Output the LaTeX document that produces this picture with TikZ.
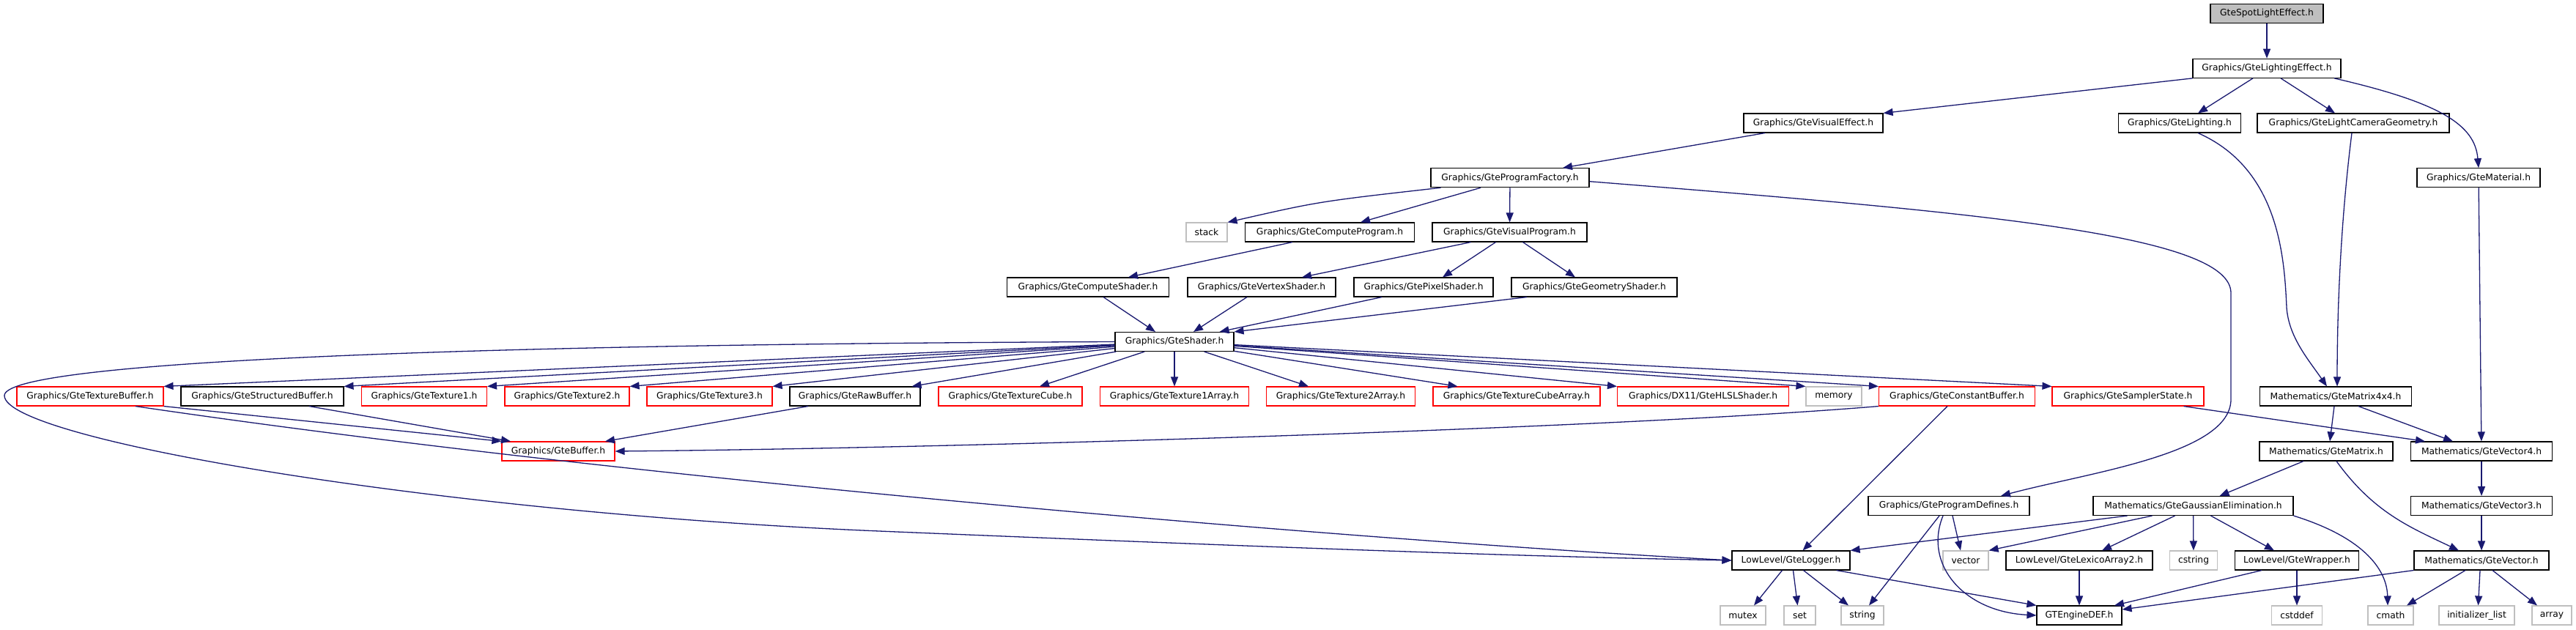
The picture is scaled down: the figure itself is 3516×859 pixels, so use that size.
\documentclass[tikz,border=0pt]{standalone}
\usepackage{fontspec}
\setmainfont{DejaVu Sans}
\usetikzlibrary{arrows.meta}
\definecolor{edgeblue}{HTML}{191970}
\definecolor{sysgray}{HTML}{BFBFBF}

\begin{document}
\begin{tikzpicture}[x=1pt,y=-1pt,
  hdr/.style={draw=black,line width=1.1pt,fill=white,minimum height=26pt,inner sep=0pt,font=\fontsize{12.3}{14}\selectfont},
  hdrred/.style={hdr,draw=red},
  hdrsys/.style={hdr,draw=sysgray},
  hdrroot/.style={hdr,fill=sysgray},
  edge/.style={draw=edgeblue,line width=1.3pt,-{Triangle[length=13pt,width=10pt]}}]
  \useasboundingbox (0,0) rectangle (3516,859);
  \node[hdrroot,minimum width=154pt] (spot) at (3094,18.5) {GteSpotLightEffect.h};
  \node[hdr,minimum width=202pt] (lighteff) at (3094,93.3) {Graphics/GteLightingEffect.h};
  \node[hdr,minimum width=190pt] (viseff) at (2475,168) {Graphics/GteVisualEffect.h};
  \node[hdr,minimum width=167pt] (lighting) at (2975,168) {Graphics/GteLighting.h};
  \node[hdr,minimum width=262pt] (lightcam) at (3212,168) {Graphics/GteLightCameraGeometry.h};
  \node[hdr,minimum width=216pt] (progfac) at (2061,242.7) {Graphics/GteProgramFactory.h};
  \node[hdr,minimum width=168pt] (material) at (3383,242.7) {Graphics/GteMaterial.h};
  \node[hdrsys,minimum width=56pt] (stack) at (1647,317) {stack};
  \node[hdr,minimum width=231pt] (compprog) at (1815,317) {Graphics/GteComputeProgram.h};
  \node[hdr,minimum width=211pt] (visprog) at (2060.5,317) {Graphics/GteVisualProgram.h};
  \node[hdr,minimum width=221pt] (compshd) at (1485,392) {Graphics/GteComputeShader.h};
  \node[hdr,minimum width=202pt] (vertshd) at (1722,392) {Graphics/GteVertexShader.h};
  \node[hdr,minimum width=190pt] (pixshd) at (1943,392) {Graphics/GtePixelShader.h};
  \node[hdr,minimum width=226pt] (geomshd) at (2176,392) {Graphics/GteGeometryShader.h};
  \node[hdr,minimum width=162pt] (shader) at (1603,466.5) {Graphics/GteShader.h};
  \node[hdrred,minimum width=200pt] (texbuf) at (123,541) {Graphics/GteTextureBuffer.h};
  \node[hdr,minimum width=222pt] (structbuf) at (358,541) {Graphics/GteStructuredBuffer.h};
  \node[hdrred,minimum width=171pt] (tex1) at (579,541) {Graphics/GteTexture1.h};
  \node[hdrred,minimum width=170pt] (tex2) at (774,541) {Graphics/GteTexture2.h};
  \node[hdrred,minimum width=171pt] (tex3) at (968.5,541) {Graphics/GteTexture3.h};
  \node[hdr,minimum width=178pt] (rawbuf) at (1167,541) {Graphics/GteRawBuffer.h};
  \node[hdrred,minimum width=196pt] (texcube) at (1379,541) {Graphics/GteTextureCube.h};
  \node[hdrred,minimum width=203pt] (tex1arr) at (1603,541) {Graphics/GteTexture1Array.h};
  \node[hdrred,minimum width=203pt] (tex2arr) at (1830,541) {Graphics/GteTexture2Array.h};
  \node[hdrred,minimum width=228pt] (texcubearr) at (2070,541) {Graphics/GteTextureCubeArray.h};
  \node[hdrred,minimum width=234pt] (hlsl) at (2324.5,541) {Graphics/DX11/GteHLSLShader.h};
  \node[hdrsys,minimum width=76pt] (memory) at (2503,541) {memory};
  \node[hdrred,minimum width=213pt] (constbuf) at (2671,541) {Graphics/GteConstantBuffer.h};
  \node[hdrred,minimum width=207pt] (sampler) at (2904.5,541) {Graphics/GteSamplerState.h};
  \node[hdr,minimum width=207pt] (mat44) at (3188,541) {Mathematics/GteMatrix4x4.h};
  \node[hdrred,minimum width=154pt] (buffer) at (762,616) {Graphics/GteBuffer.h};
  \node[hdr,minimum width=182pt] (matrix) at (3175,616) {Mathematics/GteMatrix.h};
  \node[hdr,minimum width=193pt] (vec4) at (3387,616) {Mathematics/GteVector4.h};
  \node[hdr,minimum width=220pt] (progdef) at (2660,690.5) {Graphics/GteProgramDefines.h};
  \node[hdr,minimum width=273pt] (gauss) at (2993.5,690.5) {Mathematics/GteGaussianElimination.h};
  \node[hdr,minimum width=193pt] (vec3) at (3387,690.5) {Mathematics/GteVector3.h};
  \node[hdr,minimum width=161pt] (logger) at (2444.5,765) {LowLevel/GteLogger.h};
  \node[hdrsys,minimum width=62pt] (vector) at (2683,765) {vector};
  \node[hdr,minimum width=200pt] (lexico) at (2838,765) {LowLevel/GteLexicoArray2.h};
  \node[hdrsys,minimum width=65pt] (cstring) at (2994,765) {cstring};
  \node[hdr,minimum width=169pt] (wrapper) at (3135,765) {LowLevel/GteWrapper.h};
  \node[hdr,minimum width=184pt] (vecn) at (3387,765) {Mathematics/GteVector.h};
  \node[hdrsys,minimum width=62pt] (mutex) at (2379,840) {mutex};
  \node[hdrsys,minimum width=43pt] (set) at (2456.5,840) {set};
  \node[hdrsys,minimum width=58pt] (string) at (2542,840) {string};
  \node[hdr,minimum width=116pt] (enginedef) at (2838,840) {GTEngineDEF.h};
  \node[hdrsys,minimum width=69pt] (cstddef) at (3135,840) {cstddef};
  \node[hdrsys,minimum width=62pt] (cmath) at (3263,840) {cmath};
  \node[hdrsys,minimum width=103pt] (initlist) at (3380.5,840) {initializer\_list};
  \node[hdrsys,minimum width=54pt] (array) at (3483,840) {array};

  \draw[edge] (spot) -- (lighteff);
  \draw[edge] (lighteff.south west) -- (viseff.north east);
  \draw[edge] ([xshift=-19pt]lighteff.south) -- ([xshift=25pt]lighting.north);
  \draw[edge] ([xshift=19pt]lighteff.south) -- ([xshift=-25pt]lightcam.north);
  \draw[edge] ([xshift=92pt]lighteff.south) .. controls (3330,140) and (3378,170) .. (material.north);
  \draw[edge] ([xshift=-66pt]viseff.south) -- ([xshift=72pt]progfac.north);
  \draw[edge] ([xshift=25pt]lighting.south) .. controls (3110,230) and (3118,350) .. (3121,420) .. controls (3124,460) and (3150,490) .. ([xshift=-12pt]mat44.north);
  \draw[edge] ([xshift=-2pt]lightcam.south) .. controls (3195,300) and (3190,420) .. ([xshift=2pt]mat44.north);
  \draw[edge] (material) -- (vec4);
  \draw[edge] ([xshift=14pt]progfac.south west) .. controls (1800,275) .. (stack.north east);
  \draw[edge] ([xshift=-40pt]progfac.south) -- ([xshift=42pt]compprog.north);
  \draw[edge] (progfac) -- (visprog);
  \draw[edge] ([yshift=-5pt]progfac.east) .. controls (2700,290) and (3045,320) .. (3045,400) -- (3045,545) .. controls (3045,620) and (2850,645) .. ([xshift=71pt]progdef.north);
  \draw[edge] ([xshift=-51pt]compprog.south) -- ([xshift=55pt]compshd.north);
  \draw[edge] ([xshift=-53pt]visprog.south) -- ([xshift=55pt]vertshd.north);
  \draw[edge] ([xshift=-19pt]visprog.south) -- ([xshift=26pt]pixshd.north);
  \draw[edge] ([xshift=18pt]visprog.south) -- ([xshift=-26pt]geomshd.north);
  \draw[edge] ([xshift=21pt]compshd.south) -- ([xshift=-26pt]shader.north);
  \draw[edge] ([xshift=-20pt]vertshd.south) -- ([xshift=26pt]shader.north);
  \draw[edge] ([xshift=-57pt]pixshd.south) -- ([xshift=-20pt]shader.north east);
  \draw[edge] ([xshift=-92pt]geomshd.south) -- (shader.north east);
  \draw[edge] (shader) -- (texbuf.north east);
  \draw[edge] (shader) -- (structbuf.north east);
  \draw[edge] (shader) -- (tex1.north east);
  \draw[edge] (shader) -- (tex2.north east);
  \draw[edge] (shader) -- (tex3.north east);
  \draw[edge] (shader) -- ([xshift=-12pt]rawbuf.north east);
  \draw[edge] (shader) -- ([xshift=40pt]texcube.north);
  \draw[edge] (shader) -- (tex1arr);
  \draw[edge] (shader) -- ([xshift=-44pt]tex2arr.north);
  \draw[edge] (shader) -- ([xshift=34pt]texcubearr.north west);
  \draw[edge] (shader) -- (hlsl.north west);
  \draw[edge] (shader) -- (memory.north west);
  \draw[edge] (shader) -- (constbuf.north west);
  \draw[edge] (shader) -- (sampler.north west);
  \draw[edge] (shader.west) .. controls (600,470) and (6,495) .. (6,540) .. controls (6,600) and (600,700) .. (1200,725) .. controls (1800,750) and (2100,760) .. (logger.west);
  \draw[edge] (texbuf.south east) -- (buffer.north west);
  \draw[edge] ([xshift=62pt]texbuf.south) .. controls (900,660) and (1900,740) .. (logger.west);
  \draw[edge] ([xshift=64pt]structbuf.south) -- ([xshift=-65pt]buffer.north);
  \draw[edge] ([xshift=-64pt]rawbuf.south) -- ([xshift=64pt]buffer.north);
  \draw[edge] (constbuf.south west) .. controls (2200,585) and (1300,612) .. (buffer.east);
  \draw[edge] ([xshift=-13pt]constbuf.south) -- ([xshift=16pt]logger.north);
  \draw[edge] ([xshift=76pt]sampler.south) -- ([xshift=-77pt]vec4.north);
  \draw[edge] ([xshift=-2pt]mat44.south) -- ([xshift=5pt]matrix.north);
  \draw[edge] ([xshift=31pt]mat44.south) -- ([xshift=-39pt]vec4.north);
  \draw[edge] (vec4) -- (vec3);
  \draw[edge] (vec3) -- (vecn);
  \draw[edge] ([xshift=-31pt]matrix.south) -- ([xshift=36pt]gauss.north);
  \draw[edge] ([xshift=14pt]matrix.south) .. controls (3240,700) and (3290,720) .. ([xshift=-31pt]vecn.north);
  \draw[edge] ([xshift=5pt]progdef.south) -- ([xshift=-7pt]vector.north);
  \draw[edge] ([xshift=-13pt]progdef.south) -- ([xshift=9pt]string.north);
  \draw[edge] ([xshift=-8pt]progdef.south) .. controls (2625,770) and (2680,835) .. (enginedef.west);
  \draw[edge] ([xshift=-90pt]gauss.south) -- (logger.north east);
  \draw[edge] ([xshift=-56pt]gauss.south) -- (vector.north east);
  \draw[edge] ([xshift=-25pt]gauss.south) -- ([xshift=31pt]lexico.north);
  \draw[edge] (gauss) -- (cstring);
  \draw[edge] ([xshift=24pt]gauss.south) -- ([xshift=-31pt]wrapper.north);
  \draw[edge] (gauss.south east) .. controls (3230,735) and (3258,780) .. ([xshift=-4pt]cmath.north);
  \draw[edge] ([xshift=-12pt]logger.south) -- ([xshift=15pt]mutex.north);
  \draw[edge] ([xshift=3pt]logger.south) -- ([xshift=-3pt]set.north);
  \draw[edge] ([xshift=17pt]logger.south) -- ([xshift=-19pt]string.north);
  \draw[edge] ([xshift=62pt]logger.south) -- (enginedef.north west);
  \draw[edge] (lexico) -- (enginedef);
  \draw[edge] ([xshift=-48pt]wrapper.south) -- ([xshift=48pt]enginedef.north);
  \draw[edge] (wrapper) -- (cstddef);
  \draw[edge] (vecn.south west) -- ([yshift=8pt]enginedef.east);
  \draw[edge] ([xshift=-22pt]vecn.south) -- ([xshift=22pt]cmath.north);
  \draw[edge] ([xshift=-2pt]vecn.south) -- ([xshift=2pt]initlist.north);
  \draw[edge] ([xshift=15pt]vecn.south) -- ([xshift=-20pt]array.north);
\end{tikzpicture}
\end{document}
